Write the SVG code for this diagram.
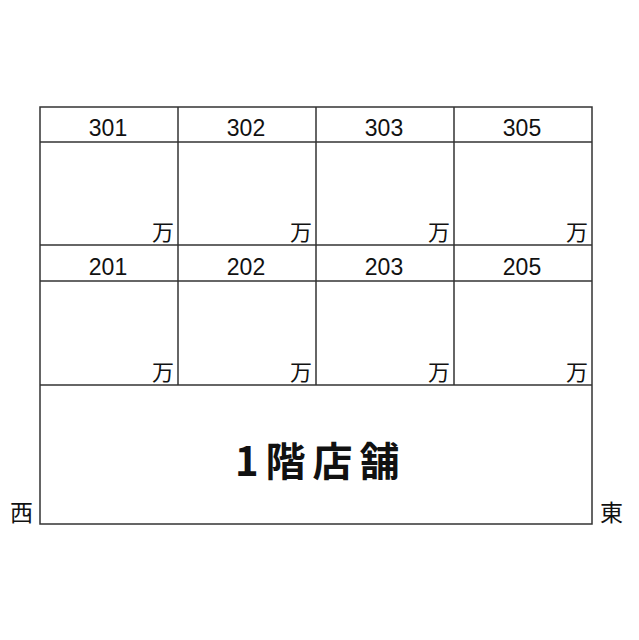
<svg xmlns="http://www.w3.org/2000/svg" width="639" height="640" viewBox="0 0 639 640">
<style>
.l{stroke:#333;stroke-width:1.5;fill:none}
.n{font-family:"Liberation Sans","Noto Sans CJK JP",sans-serif;font-size:23px;fill:#111;text-anchor:middle}
.m{font-family:"Noto Sans CJK JP",sans-serif;font-size:22px;fill:#111;text-anchor:end}
.s{font-family:"Noto Sans CJK JP",sans-serif;font-size:23px;fill:#111}
.b{font-family:"Noto Sans CJK JP",sans-serif;font-size:40px;font-weight:bold;fill:#111;letter-spacing:7px}
</style>
<rect width="639" height="640" fill="#fff"/>
<g id="grid">
<rect class="l" x="40" y="107" width="552" height="417"/>
<line class="l" x1="40" y1="142" x2="592" y2="142"/>
<line class="l" x1="40" y1="245" x2="592" y2="245"/>
<line class="l" x1="40" y1="281" x2="592" y2="281"/>
<line class="l" x1="40" y1="385" x2="592" y2="385"/>
<line class="l" x1="178" y1="107" x2="178" y2="385"/>
<line class="l" x1="316" y1="107" x2="316" y2="385"/>
<line class="l" x1="454" y1="107" x2="454" y2="385"/>
</g>
<g id="r301"><text class="n" x="108" y="136">301</text><text class="m" x="174" y="240">万</text></g>
<g id="r302"><text class="n" x="246" y="136">302</text><text class="m" x="312" y="240">万</text></g>
<g id="r303"><text class="n" x="384" y="136">303</text><text class="m" x="450" y="240">万</text></g>
<g id="r305"><text class="n" x="522" y="136">305</text><text class="m" x="588" y="240">万</text></g>
<g id="r201"><text class="n" x="108" y="275">201</text><text class="m" x="174" y="380">万</text></g>
<g id="r202"><text class="n" x="246" y="275">202</text><text class="m" x="312" y="380">万</text></g>
<g id="r203"><text class="n" x="384" y="275">203</text><text class="m" x="450" y="380">万</text></g>
<g id="r205"><text class="n" x="522" y="275">205</text><text class="m" x="588" y="380">万</text></g>
<g id="shop"><text class="b" x="235" y="476">1階店舗</text></g>
<g id="west"><text class="s" x="10" y="521">西</text></g>
<g id="east"><text class="s" x="600" y="521">東</text></g>
</svg>
